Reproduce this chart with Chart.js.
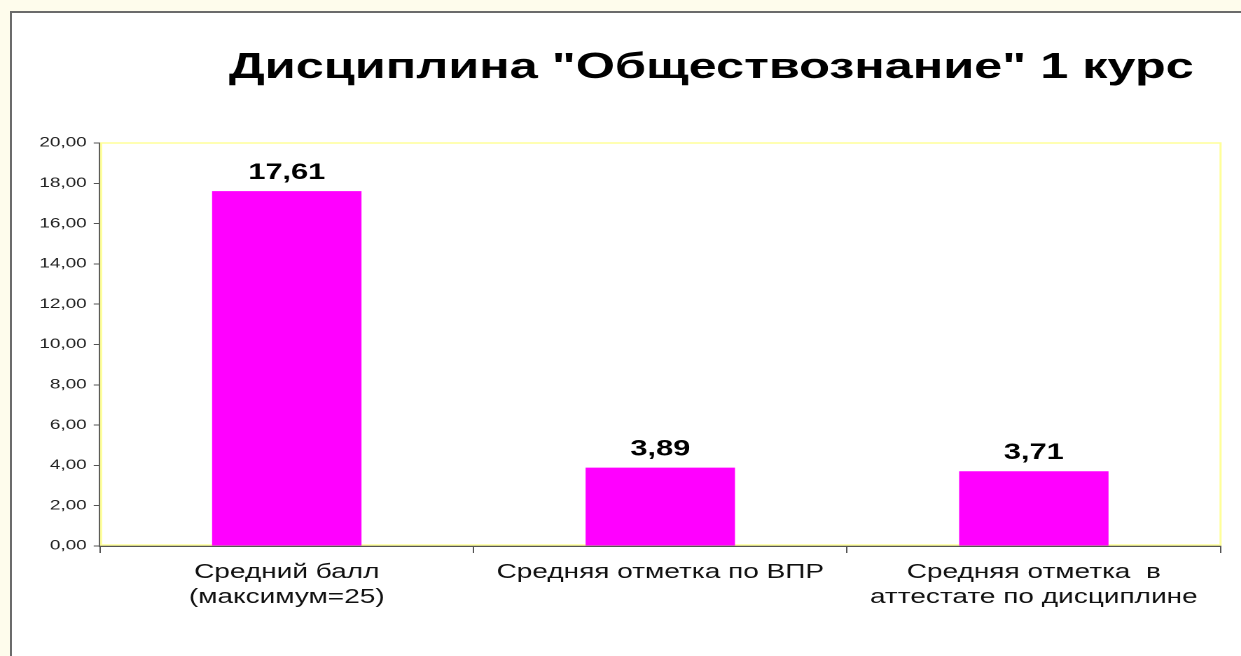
<!DOCTYPE html>
<html>
<head>
<meta charset="utf-8">
<script src="https://cdn.jsdelivr.net/npm/chart.js@4"></script>
<style>
  html, body { margin: 0; padding: 0; background: #fefcec; overflow: hidden; }
  #frame { position: absolute; left: 10px; top: 11px; width: 1260px; height: 700px;
           border: 2px solid #6b6b6b; background: #fff; }
  /* the original slide is stretched sideways, so the chart is drawn narrow and widened */
  #wrap { position: absolute; left: 0; top: 0; width: 886px; height: 656px;
          transform: scaleX(1.4007); transform-origin: 0 0; }
</style>
</head>
<body>
<div id="frame"></div>
<div id="wrap"><canvas id="myChart" width="886" height="656"></canvas></div>
<script>
const ctx = document.getElementById("myChart");

const title = 'Дисциплина "Обществознание" 1 курс';
const categories = [
  ["Средний балл", "(максимум=25)"],
  ["Средняя отметка по ВПР"],
  ["Средняя отметка  в", "аттестате по дисциплине"],
];
const values = [17.61, 3.89, 3.71];
const yTicks = [0, 2, 4, 6, 8, 10, 12, 14, 16, 18, 20];

function fmt(v) {
  return v.toFixed(2).replace(".", ",");
}

const extras = {
  id: "extras",
  beforeDatasetsDraw(chart) {
    const c = chart.ctx;
    const a = chart.chartArea;
    c.save();
    c.strokeStyle = "#ffff99";
    c.lineWidth = 1.5;
    c.strokeRect(a.left + 0.8, a.top, a.right - a.left - 0.8, a.bottom - a.top - 1);
    c.restore();
  },
  afterDraw(chart) {
    const c = chart.ctx;
    c.save();
    c.fillStyle = "#000";
    c.textAlign = "center";
    c.textBaseline = "alphabetic";
    c.font = "bold 36px Arial, 'Liberation Sans', sans-serif";
    c.fillText(title, 507.8, 78);

    c.font = "bold 22px Arial, 'Liberation Sans', sans-serif";
    chart.getDatasetMeta(0).data.forEach((bar, i) => {
      c.fillText(fmt(values[i]), bar.x, bar.y - 12);
    });
    c.restore();
  },
};

new Chart(ctx, {
  type: "bar",
  data: {
    labels: categories,
    datasets: [
      {
        data: values,
        backgroundColor: "#ff00ff",
        borderWidth: 0,
        categoryPercentage: 0.8,
        barPercentage: 0.5,
      },
    ],
  },
  options: {
    responsive: false,
    devicePixelRatio: 2,
    animation: false,
    layout: { padding: { left: 10, top: 143, right: 14.6, bottom: 0 } },
    plugins: {
      legend: { display: false },
      tooltip: { enabled: false },
    },
    scales: {
      x: {
        offset: true,
        afterFit: (s) => { s.height = 110; },
        grid: {
          offset: true,
          drawOnChartArea: false,
          tickLength: 7,
          color: "#555",
        },
        border: { color: "#555", width: 1.5 },
        ticks: {
          color: "#111",
          font: { family: "Arial, 'Liberation Sans', sans-serif", size: 20, lineHeight: 1.25 },
          padding: 7,
          maxRotation: 0,
          autoSkip: false,
        },
      },
      y: {
        min: 0,
        max: 20,
        afterFit: (s) => { s.width = 61.4; },
        afterBuildTicks: (s) => { s.ticks = yTicks.map((v) => ({ value: v })); },
        grid: {
          drawOnChartArea: false,
          tickLength: 4.5,
          color: "#555",
        },
        border: { color: "#555", width: 1.5 },
        ticks: {
          color: "#222",
          font: { family: "Arial, 'Liberation Sans', sans-serif", size: 13.5 },
          padding: 5,
          callback: (v) => fmt(v),
        },
      },
    },
  },
  plugins: [extras],
});
</script>
</body>
</html>
